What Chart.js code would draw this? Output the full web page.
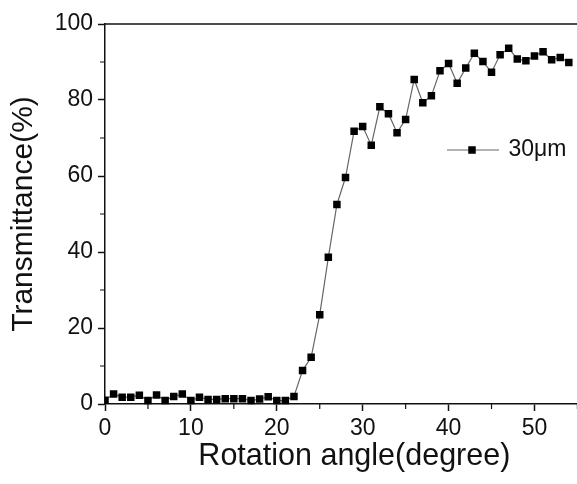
<!DOCTYPE html>
<html><head><meta charset="utf-8">
<script src="https://cdn.jsdelivr.net/npm/chart.js@4.4.1/dist/chart.umd.min.js"></script>
<style>
html,body{margin:0;padding:0;background:#fff;overflow:hidden}
#wrap{width:577px;height:484px;overflow:hidden;position:relative;background:#fff}
canvas{display:block}
</style></head>
<body><div id="wrap"><canvas id="c" width="609" height="484"></canvas></div>
<script>
const seriesLabel = '30μm';
const xTitle = 'Rotation angle(degree)';
const yTitle = 'Transmittance(%)';
const angles = [0,1,2,3,4,5,6,7,8,9,10,11,12,13,14,15,16,17,18,19,20,21,22,23,24,25,26,27,28,29,30,31,32,33,34,35,36,37,38,39,40,41,42,43,44,45,46,47,48,49,50,51,52,53,54];
const transmittance = [1.0,2.6,1.8,1.8,2.3,0.9,2.4,0.9,2.0,2.6,0.9,1.8,1.2,1.2,1.4,1.4,1.4,0.9,1.3,1.9,0.9,0.9,2.0,8.8,12.3,23.5,38.6,52.5,59.6,71.8,73.0,68.1,78.2,76.4,71.4,74.9,85.4,79.3,81.1,87.7,89.6,84.4,88.4,92.3,90.1,87.3,91.9,93.6,90.8,90.3,91.6,92.7,90.6,91.2,89.9];
const xTicks = [0,10,20,30,40,50];
const yTicks = [0,20,40,60,80,100];
const xMinorTicks = [5,15,25,35,45,55];
const yMinorTicks = [10,30,50,70,90];

const FONT = "'Liberation Sans', Arial, Helvetica, sans-serif";
const INK = '#111';

// legend symbol: short line with a square marker
const sym = document.createElement('canvas');
sym.width = 54; sym.height = 12;
(function(){
  const g = sym.getContext('2d');
  g.strokeStyle = '#666'; g.lineWidth = 1.2;
  g.beginPath(); g.moveTo(0, 6); g.lineTo(54, 6); g.stroke();
  g.fillStyle = '#000'; g.fillRect(23.25, 2.25, 7.5, 7.5);
})();

const extras = {
  id: 'extras',
  beforeDraw(chart) {
    const lg = chart.legend;
    if (lg) { lg.left = 447; lg.top = 138.5; lg.right = 609; lg.bottom = 175; lg.width = 162; lg.height = 36.5; }
  },
  afterDraw(chart) {
    const {ctx, chartArea: a, scales: {x, y}} = chart;
    ctx.save();
    ctx.strokeStyle = INK; ctx.lineWidth = 1.5;
    ctx.beginPath(); ctx.moveTo(a.left - 0.75, a.top); ctx.lineTo(a.right, a.top); ctx.stroke();
    ctx.lineWidth = 1.2;
    ctx.beginPath();
    xMinorTicks.forEach(v => { const px = x.getPixelForValue(v); ctx.moveTo(px, a.bottom); ctx.lineTo(px, a.bottom + 5); });
    yMinorTicks.forEach(v => { const py = y.getPixelForValue(v); ctx.moveTo(a.left, py); ctx.lineTo(a.left - 5, py); });
    ctx.stroke();
    ctx.restore();
  }
};

new Chart(document.getElementById('c'), {
  type: 'line',
  data: {
    datasets: [{
      label: seriesLabel,
      data: angles.map((a, i) => ({x: a, y: transmittance[i]})),
      borderColor: '#666',
      borderWidth: 1.2,
      pointStyle: 'rect',
      pointRadius: 5.3,
      pointHoverRadius: 5.3,
      pointBackgroundColor: '#000',
      pointBorderColor: '#000',
      pointBorderWidth: 0,
      tension: 0,
      clip: {left: 0, top: 10, right: 10, bottom: 10}
    }]
  },
  options: {
    responsive: false,
    animation: false,
    events: [],
    layout: {padding: {top: 23, left: 0, right: 0, bottom: 0}},
    plugins: {
      tooltip: {enabled: false},
      legend: {
        display: true, position: 'top', align: 'start', maxHeight: 1,
        labels: {
          padding: 0, color: INK, font: {family: FONT, size: 23},
          usePointStyle: true, pointStyle: sym, pointStyleWidth: 50, boxHeight: 12
        }
      }
    },
    scales: {
      x: {
        type: 'linear', min: 0, max: 58.06,
        afterBuildTicks: s => { s.ticks = xTicks.map(v => ({value: v})); },
        afterFit: s => { s.height = 80; },
        grid: {display: true, drawOnChartArea: false, drawTicks: true, tickLength: 7, tickWidth: 1.5, tickColor: INK},
        border: {display: true, color: INK, width: 1.5},
        ticks: {color: INK, font: {family: FONT, size: 23}, padding: 4, maxRotation: 0},
        title: {display: true, text: xTitle, color: INK, font: {family: FONT, size: 30.5}, padding: {top: 0, bottom: 9}}
      },
      y: {
        type: 'linear', min: 0, max: 100,
        afterBuildTicks: s => { s.ticks = yTicks.map(v => ({value: v})); },
        afterFit: s => { s.width = 105; },
        grid: {display: true, drawOnChartArea: false, drawTicks: true, tickLength: 7, tickWidth: 1.5, tickColor: INK},
        border: {display: true, color: INK, width: 1.5},
        ticks: {color: INK, font: {family: FONT, size: 23}, padding: 5},
        title: {display: true, text: yTitle, color: INK, font: {family: FONT, size: 30}, padding: {top: 6, bottom: 0}}
      }
    }
  },
  plugins: [extras]
});
</script>
</body></html>
